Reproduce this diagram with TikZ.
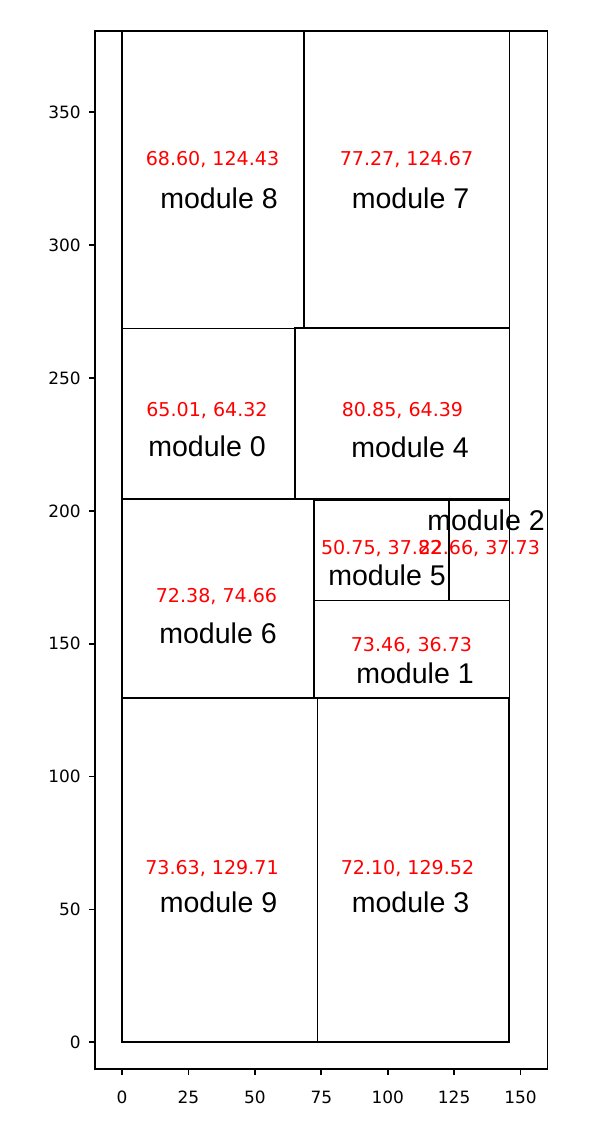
\documentclass[tikz,border=0pt]{standalone}
\usepackage{fontspec}
\usepackage{color}
\newfontfamily\dejavu{DejaVu Sans}
\newfontfamily\arialf{Liberation Sans}
\usetikzlibrary{arrows}
\definecolor{mplred}{rgb}{1,0,0}

\begin{document}
\begin{tikzpicture}[x=0.75pt,y=0.75pt,yscale=-1,xscale=1,
  box/.style={line width=1.3pt},
  val/.style={inner sep=0pt,text=mplred,font=\dejavu\fontsize{14.3}{16}\selectfont},
  modname/.style={inner sep=0pt,font=\arialf\fontsize{21.4}{24}\selectfont},
  ticklab/.style={inner sep=0pt,font=\dejavu\fontsize{12.7}{14}\selectfont}]
\useasboundingbox (0,0) rectangle (590,1125);

%Shape: Axes frame
\draw [box] (95,31) rectangle (547.5,1069) ;

%Ticks y
\foreach \v in {0,50,...,350}{
  \draw [box] (95,1042.3-2.657*\v) -- (89,1042.3-2.657*\v) ;
  \node [ticklab,anchor=east] (ytick\v) at (81,1042.3-2.657*\v) {\v};
}
%Ticks x
\foreach \v in {0,25,...,150}{
  \draw [box] (122+2.657*\v,1069) -- (122+2.657*\v,1075) ;
  \node [ticklab] (xtick\v) at (122+2.657*\v,1097) {\v};
}

%Shape: Rectangle module 9
\draw [box] (122,1042.3) rectangle (317.6,697.7) ;
%Shape: Rectangle module 3
\draw [box] (317.6,1042.3) rectangle (509.2,698.2) ;
%Shape: Rectangle module 6
\draw [box] (122,697.7) rectangle (314.3,499.3) ;
%Shape: Rectangle module 1
\draw [box] (314.3,698.2) rectangle (509.5,600.6) ;
%Shape: Rectangle module 5
\draw [box] (314.3,600.6) rectangle (449.2,500.1) ;
%Shape: Rectangle module 2
\draw [box] (449.2,600.6) rectangle (509.4,500.3) ;
%Shape: Rectangle module 0
\draw [box] (122,499.3) rectangle (294.7,328.4) ;
%Shape: Rectangle module 4
\draw [box] (294.7,499.3) rectangle (509.5,328.2) ;
%Shape: Rectangle module 8
\draw [box] (122,328.4) rectangle (304.3,31) ;
%Shape: Rectangle module 7
\draw [box] (304.3,328.2) rectangle (509.6,31) ;

% Text Node
\node [val] (val8) at (212.5,160) {68.60, 124.43};
\node [modname] (name8) at (219,198) {module 8};
% Text Node
\node [val] (val7) at (406.5,160) {77.27, 124.67};
\node [modname] (name7) at (410.5,198) {module 7};
% Text Node
\node [val] (val0) at (207,411) {65.01, 64.32};
\node [modname] (name0) at (207,446.5) {module 0};
% Text Node
\node [val] (val4) at (402.5,411) {80.85, 64.39};
\node [modname] (name4) at (410,447) {module 4};
% Text Node
\node [val] (val6) at (216.5,597) {72.38, 74.66};
\node [modname] (name6) at (218,633) {module 6};
% Text Node
\node [val] (val5) at (381.7,549) {50.75, 37.82};
\node [modname] (name5) at (387,575) {module 5};
% Text Node
\node [val] (val2) at (479.3,549) {22.66, 37.73};
\node [modname] (name2) at (486,520) {module 2};
% Text Node
\node [val] (val1) at (411.5,646) {73.46, 36.73};
\node [modname] (name1) at (415,673) {module 1};
% Text Node
\node [val] (val9) at (212,869) {73.63, 129.71};
\node [modname] (name9) at (218.5,902) {module 9};
% Text Node
\node [val] (val3) at (407.5,869) {72.10, 129.52};
\node [modname] (name3) at (410.5,902) {module 3};

\end{tikzpicture}
\end{document}
